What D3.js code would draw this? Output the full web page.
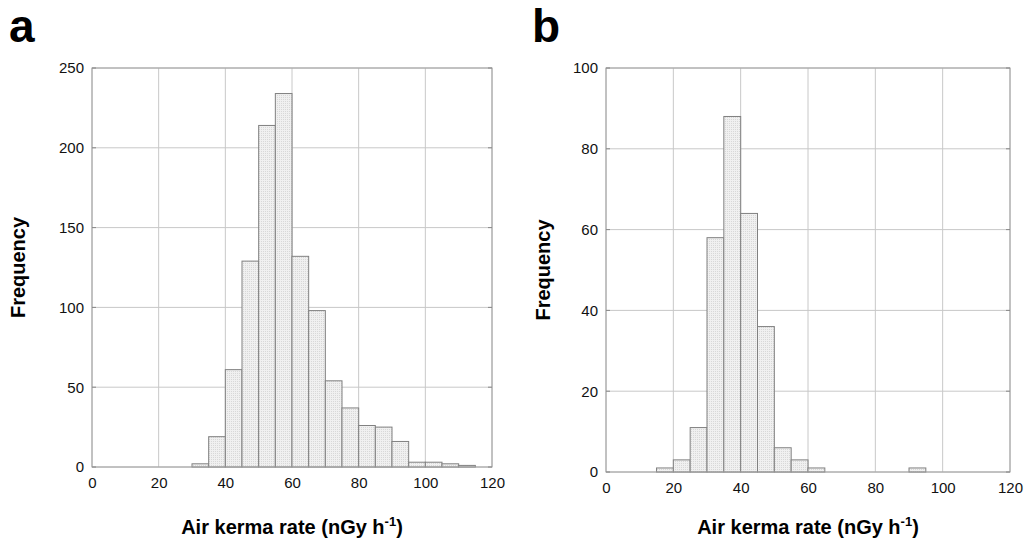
<!DOCTYPE html>
<html>
<head>
<meta charset="utf-8">
<script src="https://cdn.jsdelivr.net/npm/d3@7"></script>
<style>
body { margin: 0; background: #fff; }
svg { font-family: "Liberation Sans", Arial, sans-serif; }
</style>
</head>
<body>
<div id="chart-area"></div>
<script>
// histogram bins (5 nGy/h wide), start of bin and count
var binsA = [30, 35, 40, 45, 50, 55, 60, 65, 70, 75, 80, 85, 90, 95, 100, 105, 110];
var countsA = [2, 19, 61, 129, 214, 234, 132, 98, 54, 37, 26, 25, 16, 3, 3, 2, 1];

var binsB = [15, 20, 25, 30, 35, 40, 45, 50, 55, 60, 90];
var countsB = [1, 3, 11, 58, 88, 64, 36, 6, 3, 1, 1];

var xTicks = [0, 20, 40, 60, 80, 100, 120];
var yTicksA = [0, 50, 100, 150, 200, 250];
var yTicksB = [0, 20, 40, 60, 80, 100];
var binWidth = 5;

var svg = d3.select("#chart-area")
	.append("svg")
	.attr("width", 1028)
	.attr("height", 547);

// dotted fill like the original
var pat = svg.append("defs").append("pattern")
	.attr("id", "dots")
	.attr("width", 2)
	.attr("height", 2)
	.attr("patternUnits", "userSpaceOnUse");
pat.append("rect").attr("width", 2).attr("height", 2).attr("fill", "#f0f0f0");
pat.append("rect").attr("x", 1).attr("y", 1).attr("width", 1).attr("height", 1).attr("fill", "#d8d8d8");

function panel(opts){
	var g = svg.append("g")
		.attr("transform", "translate(" + opts.left + "," + opts.top + ")");
	var w = opts.width, h = opts.height;

	var x = d3.scaleLinear().domain([0, 120]).range([0, w]);
	var y = d3.scaleLinear().domain([0, opts.yMax]).range([h, 0]);

	// grid
	g.selectAll(".vgrid").data(xTicks).enter().append("line")
		.attr("x1", function(d){ return x(d); })
		.attr("x2", function(d){ return x(d); })
		.attr("y1", 0).attr("y2", h)
		.attr("stroke", "#c8c8c8").attr("stroke-width", 1);
	g.selectAll(".hgrid").data(opts.yTicks).enter().append("line")
		.attr("y1", function(d){ return y(d); })
		.attr("y2", function(d){ return y(d); })
		.attr("x1", 0).attr("x2", w)
		.attr("stroke", "#c8c8c8").attr("stroke-width", 1);

	// bars
	var data = opts.bins.map(function(b, i){ return {x0: b, n: opts.counts[i]}; });
	g.selectAll("rect.bar").data(data).enter().append("rect")
		.attr("class", "bar")
		.attr("x", function(d){ return x(d.x0); })
		.attr("width", function(d){ return x(d.x0 + binWidth) - x(d.x0); })
		.attr("y", function(d){ return y(d.n); })
		.attr("height", function(d){ return h - y(d.n); })
		.attr("fill", "url(#dots)")
		.attr("stroke", "#808080")
		.attr("stroke-width", 1);

	// frame
	g.append("rect")
		.attr("width", w).attr("height", h)
		.attr("fill", "none")
		.attr("stroke", "#a0a0a0");

	// axes
	var xAxis = g.append("g")
		.attr("transform", "translate(0," + h + ")")
		.call(d3.axisBottom(x).tickValues(xTicks).tickSize(0).tickPadding(10));
	var yAxis = g.append("g")
		.call(d3.axisLeft(y).tickValues(opts.yTicks).tickSize(0).tickPadding(8));
	[xAxis, yAxis].forEach(function(a){
		a.select(".domain").remove();
		a.selectAll("text").attr("font-size", "15px").attr("fill", "#111")
			.attr("font-family", "Liberation Sans, Arial, sans-serif");
	});

	// small tick marks inside on left and right
	g.selectAll(".tl").data(opts.yTicks).enter().append("line")
		.attr("x1", 0).attr("x2", 4)
		.attr("y1", function(d){ return y(d); }).attr("y2", function(d){ return y(d); })
		.attr("stroke", "#888");
	g.selectAll(".tr").data(opts.yTicks).enter().append("line")
		.attr("x1", w - 4).attr("x2", w)
		.attr("y1", function(d){ return y(d); }).attr("y2", function(d){ return y(d); })
		.attr("stroke", "#888");

	// labels
	g.append("text")
		.attr("x", w / 2)
		.attr("y", 534 - opts.top)
		.attr("text-anchor", "middle")
		.attr("font-size", "20px")
		.attr("font-weight", "bold")
		.html("Air kerma rate (nGy h<tspan dy='-8' font-size='13px'>-1</tspan><tspan dy='8'>)</tspan>");

	g.append("text")
		.attr("transform", "rotate(-90)")
		.attr("x", -h / 2)
		.attr("y", opts.yLabelX - opts.left)
		.attr("text-anchor", "middle")
		.attr("font-size", "20px")
		.attr("font-weight", "bold")
		.text("Frequency");

	svg.append("text")
		.attr("x", opts.letterX)
		.attr("y", 42)
		.attr("font-size", "46px")
		.attr("font-weight", "bold")
		.text(opts.letter);
}

panel({left: 92, top: 68, width: 400, height: 399, yMax: 250, yTicks: yTicksA,
	bins: binsA, counts: countsA, yLabelX: 25, letter: "a", letterX: 9});
panel({left: 606, top: 68, width: 404, height: 404, yMax: 100, yTicks: yTicksB,
	bins: binsB, counts: countsB, yLabelX: 550, letter: "b", letterX: 532});
</script>
</body>
</html>
